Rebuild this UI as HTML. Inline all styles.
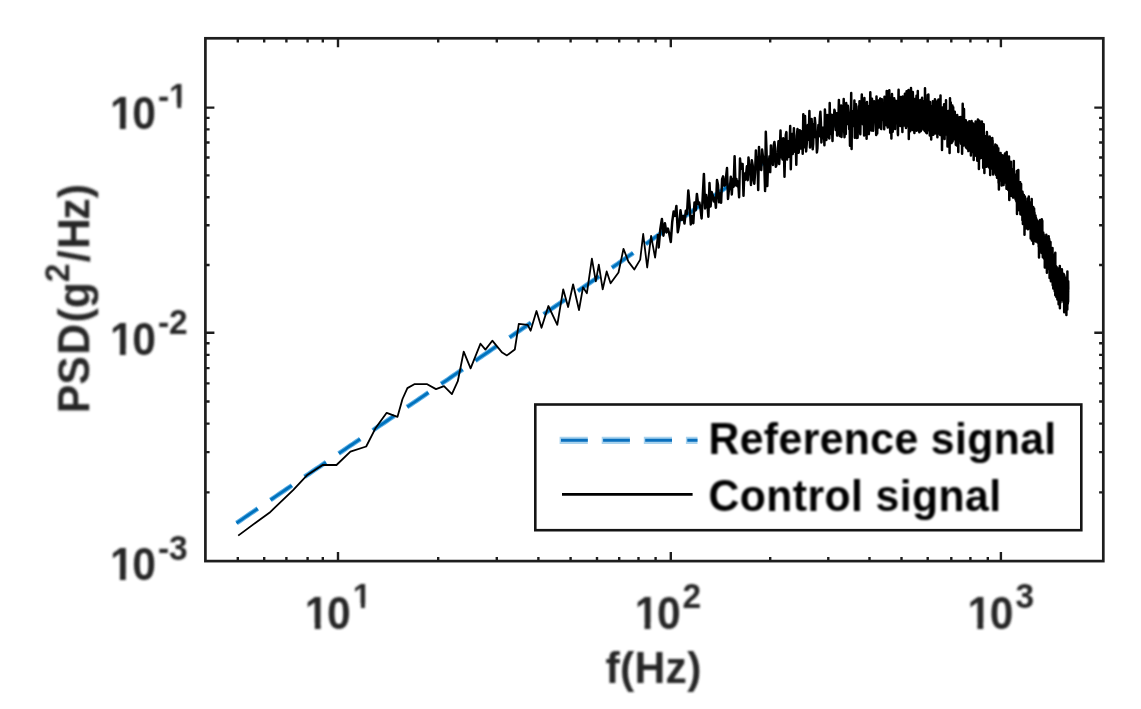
<!DOCTYPE html>
<html><head><meta charset="utf-8"><title>PSD</title>
<style>
html,body{margin:0;padding:0;background:#fff;}
svg{display:block}
text{font-family:"Liberation Sans",sans-serif;font-weight:bold;font-size:42.67px;}
.tl{fill:#262626}
.lab{fill:#262626}
.leg{fill:#000}
.sup{stroke:none}
</style></head><body>
<svg width="1141" height="709" viewBox="0 0 1141 709">
<defs><filter id="bl" x="-2%" y="-2%" width="104%" height="104%"><feGaussianBlur stdDeviation="0.8"/></filter>
<clipPath id="ft"><path clip-rule="evenodd" d="M0,0H1141V709H0ZM305.54,622.96h9.27v7.64h-9.27ZM320.67,622.96h8.73v7.64h-8.73ZM352.93,603.56h8.01v6.64h-8.01ZM364.93,603.56h7.58v6.64h-7.58ZM635.34,622.96h9.27v7.64h-9.27ZM650.47,622.96h8.73v7.64h-8.73ZM968.14,622.96h9.27v7.64h-9.27ZM983.27,622.96h8.73v7.64h-8.73ZM110.64,123.06h9.27v7.64h-9.27ZM125.77,123.06h8.73v7.64h-8.73ZM169.18,103.66h8.01v6.64h-8.01ZM181.18,103.66h7.58v6.64h-7.58ZM110.64,348.96h9.27v7.64h-9.27ZM125.77,348.96h8.73v7.64h-8.73ZM110.64,574.36h9.27v7.64h-9.27ZM125.77,574.36h8.73v7.64h-8.73Z"/></clipPath>
<clipPath id="cp"><rect x="205.4" y="38.3" width="897.9" height="522.8000000000001"/></clipPath></defs>
<rect width="1141" height="709" fill="#fff"/>
<g>
<g clip-path="url(#cp)">
<polyline points="236.5,523.1 239.3,521.2 242.1,519.3 244.8,517.4 247.6,515.5 250.4,513.6 253.2,511.7 256.0,509.8 258.7,508.0 261.5,506.1 264.3,504.2 267.1,502.3 269.9,500.4 272.7,498.5 275.4,496.6 278.2,494.7 281.0,492.8 283.8,490.9 286.6,489.0 289.3,487.2 292.1,485.3 294.9,483.4 297.7,481.5 300.5,479.6 303.2,477.7 306.0,475.8 308.8,473.9 311.6,472.0 314.4,470.1 317.1,468.2 319.9,466.4 322.7,464.5 325.5,462.6 328.3,460.7 331.1,458.8 333.8,456.9 336.6,455.0 339.4,453.1 342.2,451.2 345.0,449.3 347.7,447.4 350.5,445.5 353.3,443.7 356.1,441.8 358.9,439.9 361.6,438.0 364.4,436.1 367.2,434.2 370.0,432.3 372.8,430.4 375.5,428.5 378.3,426.6 381.1,424.7 383.9,422.9 386.7,421.0 389.5,419.1 392.2,417.2 395.0,415.3 397.8,413.4 400.6,411.5 403.4,409.6 406.1,407.7 408.9,405.8 411.7,403.9 414.5,402.1 417.3,400.2 420.0,398.3 422.8,396.4 425.6,394.5 428.4,392.6 431.2,390.7 433.9,388.8 436.7,386.9 439.5,385.0 442.3,383.1 445.1,381.3 447.9,379.4 450.6,377.5 453.4,375.6 456.2,373.7 459.0,371.8 461.8,369.9 464.5,368.0 467.3,366.1 470.1,364.2 472.9,362.3 475.7,360.5 478.4,358.6 481.2,356.7 484.0,354.8 486.8,352.9 489.6,351.0 492.3,349.1 495.1,347.2 497.9,345.3 500.7,343.4 503.5,341.5 506.3,339.6 509.0,337.8 511.8,335.9 514.6,334.0 517.4,332.1 520.2,330.2 522.9,328.3 525.7,326.4 528.5,324.5 531.3,322.6 534.1,320.7 536.8,318.8 539.6,317.0 542.4,315.1 545.2,313.2 548.0,311.3 550.7,309.4 553.5,307.5 556.3,305.6 559.1,303.7 561.9,301.8 564.7,299.9 567.4,298.0 570.2,296.2 573.0,294.3 575.8,292.4 578.6,290.5 581.3,288.6 584.1,286.7 586.9,284.8 589.7,282.9 592.5,281.0 595.2,279.1 598.0,277.2 600.8,275.4 603.6,273.5 606.4,271.6 609.1,269.6 611.9,267.7 614.7,265.8 617.5,263.9 620.3,261.9 623.1,260.0 625.8,258.1 628.6,256.1 631.4,254.2 634.2,252.2 637.0,250.2 639.7,248.3 642.5,246.3 645.3,244.3 648.1,242.4 650.9,240.4 653.6,238.4 656.4,236.4 659.2,234.5 662.0,232.5 664.8,230.5 667.5,228.5 670.3,226.6 673.1,224.6 675.9,222.6 678.7,220.6 681.4,218.7 684.2,216.7 687.0,214.7 689.8,212.8 692.6,210.8 695.4,208.9 698.1,206.9 700.9,205.0 703.7,203.0 706.5,201.1 709.3,199.1 712.0,197.2 714.8,195.3 717.6,193.4 720.4,191.5 723.2,189.6 725.9,187.7 728.7,185.8 731.5,183.9 734.3,182.0 737.1,180.2 739.8,178.3 742.6,176.5 745.4,174.6 748.2,172.8 751.0,171.0 753.8,169.2 756.5,167.4 759.3,165.6 762.1,163.8 764.9,162.0 767.7,160.3 770.4,158.6 773.2,156.8 776.0,155.1 778.8,153.4 781.6,151.7 784.3,150.1 787.1,148.4 789.9,146.8 792.7,145.1 795.5,143.6 798.2,142.1 801.0,140.6 803.8,139.1 806.6,137.7 809.4,136.2 812.2,134.8 814.9,133.4 817.7,132.0 820.5,130.8 823.3,129.5 826.1,128.3 828.8,127.1 831.6,126.0 834.4,124.9 837.2,123.9 840.0,123.0 842.7,122.2 845.5,121.4 848.3,120.7 851.1,120.0 853.9,119.3 856.6,118.7 859.4,118.1 862.2,117.5 865.0,116.9 867.8,116.2 870.6,115.6 873.3,115.1 876.1,114.7 878.9,114.5 881.7,114.5 884.5,114.5 887.2,114.5 890.0,114.5 892.8,114.5 895.6,114.5 898.4,114.5 901.1,114.5 903.9,114.7 906.7,115.0 909.5,115.5 912.3,116.0 915.0,116.5 917.8,117.1 920.6,117.6 923.4,118.1 926.2,118.7 929.0,119.2 931.7,119.8 934.5,120.5 937.3,121.2 940.1,122.0 942.9,123.0 945.6,124.0 948.4,125.3 951.2,126.6 954.0,128.0 956.8,129.4 959.5,130.8 962.3,132.2 965.1,133.8 967.9,135.3 970.7,137.0 973.4,138.9 976.2,140.9 979.0,143.2 981.8,145.9 984.6,148.9 987.4,152.2 990.1,155.5 992.9,158.7 995.7,161.7 998.5,164.5 1001.3,167.2 1004.0,169.9 1006.8,173.1 1009.6,176.9 1012.4,181.9 1015.2,187.8 1017.9,194.4 1020.7,202.7 1023.5,210.1 1026.3,214.3 1029.1,217.5 1031.8,221.3 1034.6,226.1 1037.4,231.6 1040.2,237.4 1043.0,243.9 1045.8,251.0 1048.5,258.5 1051.3,266.9 1054.1,274.9 1056.9,280.7 1059.7,285.3 1062.4,288.5 1065.2,291.2 1068.0,293.2" fill="none" stroke="#5fb0e6" stroke-width="4.8" stroke-dasharray="26.1 15.2" stroke-dashoffset="0.3" stroke-linejoin="round"/>
<polyline points="236.5,523.1 239.3,521.2 242.1,519.3 244.8,517.4 247.6,515.5 250.4,513.6 253.2,511.7 256.0,509.8 258.7,508.0 261.5,506.1 264.3,504.2 267.1,502.3 269.9,500.4 272.7,498.5 275.4,496.6 278.2,494.7 281.0,492.8 283.8,490.9 286.6,489.0 289.3,487.2 292.1,485.3 294.9,483.4 297.7,481.5 300.5,479.6 303.2,477.7 306.0,475.8 308.8,473.9 311.6,472.0 314.4,470.1 317.1,468.2 319.9,466.4 322.7,464.5 325.5,462.6 328.3,460.7 331.1,458.8 333.8,456.9 336.6,455.0 339.4,453.1 342.2,451.2 345.0,449.3 347.7,447.4 350.5,445.5 353.3,443.7 356.1,441.8 358.9,439.9 361.6,438.0 364.4,436.1 367.2,434.2 370.0,432.3 372.8,430.4 375.5,428.5 378.3,426.6 381.1,424.7 383.9,422.9 386.7,421.0 389.5,419.1 392.2,417.2 395.0,415.3 397.8,413.4 400.6,411.5 403.4,409.6 406.1,407.7 408.9,405.8 411.7,403.9 414.5,402.1 417.3,400.2 420.0,398.3 422.8,396.4 425.6,394.5 428.4,392.6 431.2,390.7 433.9,388.8 436.7,386.9 439.5,385.0 442.3,383.1 445.1,381.3 447.9,379.4 450.6,377.5 453.4,375.6 456.2,373.7 459.0,371.8 461.8,369.9 464.5,368.0 467.3,366.1 470.1,364.2 472.9,362.3 475.7,360.5 478.4,358.6 481.2,356.7 484.0,354.8 486.8,352.9 489.6,351.0 492.3,349.1 495.1,347.2 497.9,345.3 500.7,343.4 503.5,341.5 506.3,339.6 509.0,337.8 511.8,335.9 514.6,334.0 517.4,332.1 520.2,330.2 522.9,328.3 525.7,326.4 528.5,324.5 531.3,322.6 534.1,320.7 536.8,318.8 539.6,317.0 542.4,315.1 545.2,313.2 548.0,311.3 550.7,309.4 553.5,307.5 556.3,305.6 559.1,303.7 561.9,301.8 564.7,299.9 567.4,298.0 570.2,296.2 573.0,294.3 575.8,292.4 578.6,290.5 581.3,288.6 584.1,286.7 586.9,284.8 589.7,282.9 592.5,281.0 595.2,279.1 598.0,277.2 600.8,275.4 603.6,273.5 606.4,271.6 609.1,269.6 611.9,267.7 614.7,265.8 617.5,263.9 620.3,261.9 623.1,260.0 625.8,258.1 628.6,256.1 631.4,254.2 634.2,252.2 637.0,250.2 639.7,248.3 642.5,246.3 645.3,244.3 648.1,242.4 650.9,240.4 653.6,238.4 656.4,236.4 659.2,234.5 662.0,232.5 664.8,230.5 667.5,228.5 670.3,226.6 673.1,224.6 675.9,222.6 678.7,220.6 681.4,218.7 684.2,216.7 687.0,214.7 689.8,212.8 692.6,210.8 695.4,208.9 698.1,206.9 700.9,205.0 703.7,203.0 706.5,201.1 709.3,199.1 712.0,197.2 714.8,195.3 717.6,193.4 720.4,191.5 723.2,189.6 725.9,187.7 728.7,185.8 731.5,183.9 734.3,182.0 737.1,180.2 739.8,178.3 742.6,176.5 745.4,174.6 748.2,172.8 751.0,171.0 753.8,169.2 756.5,167.4 759.3,165.6 762.1,163.8 764.9,162.0 767.7,160.3 770.4,158.6 773.2,156.8 776.0,155.1 778.8,153.4 781.6,151.7 784.3,150.1 787.1,148.4 789.9,146.8 792.7,145.1 795.5,143.6 798.2,142.1 801.0,140.6 803.8,139.1 806.6,137.7 809.4,136.2 812.2,134.8 814.9,133.4 817.7,132.0 820.5,130.8 823.3,129.5 826.1,128.3 828.8,127.1 831.6,126.0 834.4,124.9 837.2,123.9 840.0,123.0 842.7,122.2 845.5,121.4 848.3,120.7 851.1,120.0 853.9,119.3 856.6,118.7 859.4,118.1 862.2,117.5 865.0,116.9 867.8,116.2 870.6,115.6 873.3,115.1 876.1,114.7 878.9,114.5 881.7,114.5 884.5,114.5 887.2,114.5 890.0,114.5 892.8,114.5 895.6,114.5 898.4,114.5 901.1,114.5 903.9,114.7 906.7,115.0 909.5,115.5 912.3,116.0 915.0,116.5 917.8,117.1 920.6,117.6 923.4,118.1 926.2,118.7 929.0,119.2 931.7,119.8 934.5,120.5 937.3,121.2 940.1,122.0 942.9,123.0 945.6,124.0 948.4,125.3 951.2,126.6 954.0,128.0 956.8,129.4 959.5,130.8 962.3,132.2 965.1,133.8 967.9,135.3 970.7,137.0 973.4,138.9 976.2,140.9 979.0,143.2 981.8,145.9 984.6,148.9 987.4,152.2 990.1,155.5 992.9,158.7 995.7,161.7 998.5,164.5 1001.3,167.2 1004.0,169.9 1006.8,173.1 1009.6,176.9 1012.4,181.9 1015.2,187.8 1017.9,194.4 1020.7,202.7 1023.5,210.1 1026.3,214.3 1029.1,217.5 1031.8,221.3 1034.6,226.1 1037.4,231.6 1040.2,237.4 1043.0,243.9 1045.8,251.0 1048.5,258.5 1051.3,266.9 1054.1,274.9 1056.9,280.7 1059.7,285.3 1062.4,288.5 1065.2,291.2 1068.0,293.2" fill="none" stroke="#0072BD" stroke-width="2.8" stroke-dasharray="25.5 15.8" stroke-linejoin="round"/>
<polyline points="238.2,535.6 255.6,522.7 269.4,512.8 293.1,490.1 306.9,475.3 322.7,465.0 336.5,465.0 350.4,451.6 366.2,446.5 375.8,427.7 386.7,412.8 397.5,416.8 402.5,399.0 407.4,388.1 414.3,384.2 427.2,384.2 436.0,389.1 444.0,386.2 451.9,394.1 457.8,381.2 463.7,351.6 470.6,368.4 480.5,343.7 485.4,349.6 492.3,340.7 502.2,352.6 506.9,355.4 514.8,349.5 518.8,323.8 527.7,324.8 530.6,330.7 536.5,311.0 541.5,327.8 548.4,306.0 557.3,324.8 563.2,289.3 568.1,307.0 573.1,284.3 579.0,310.0 583.0,287.3 586.9,293.2 591.9,258.6 595.8,281.4 598.8,264.6 602.7,289.3 606.7,271.5 610.6,283.3 618.5,272.5 623.5,248.8 628.4,261.6 634.3,269.5 640.2,259.6 643.2,234.0 647.2,267.5 651.1,235.9 655.1,257.7 658.0,234.0" fill="none" stroke="#000" stroke-width="1.8" stroke-linejoin="round"/>
<polyline points="658.0,234.0 658.7,247.4 660.3,229.1 661.9,218.9 663.4,235.7 664.9,223.3 666.4,232.4 667.9,228.6 669.3,234.0 670.8,241.9 672.2,222.0 673.6,211.6 675.0,215.9 676.4,206.0 677.8,232.2 679.2,224.7 680.5,210.3 681.8,219.8 683.2,216.1 684.5,223.6 685.8,210.8 687.0,213.8 688.3,190.6 689.6,205.0 690.8,224.4 692.1,216.2 693.3,223.3 694.5,202.6 695.7,210.2 696.9,193.9 698.1,204.1 699.3,202.6 700.5,208.7 701.6,218.4 702.8,195.2 703.9,173.9 705.1,208.5 706.2,195.0 707.3,202.5 708.4,216.8 709.5,183.0 710.6,206.5 711.7,192.1 712.8,195.6 713.8,201.4 714.9,197.7 715.9,207.8 717.0,180.1 718.0,185.0 719.0,202.3 720.1,193.6 721.1,202.8 722.1,179.2 723.1,176.4 724.1,185.7 725.1,185.1 726.0,177.7 727.0,168.1 728.0,199.0 728.9,190.0 729.9,188.5 730.8,176.8 731.8,194.5 732.7,178.9 733.6,186.8 734.6,156.3 735.5,185.2 736.4,179.0 737.3,186.2 738.2,181.4 739.1,197.2 740.0,158.5 740.8,168.7 741.7,163.9 742.6,163.9 743.5,195.8 744.3,173.4 745.2,179.7 746.0,175.3 746.9,166.3 747.7,180.3 748.5,157.5 749.4,167.1 750.2,171.5 751.0,184.9 751.8,160.3 752.7,165.2 753.5,179.6 754.3,183.7 755.1,172.4 755.9,150.4 756.6,164.2 757.4,157.2 758.2,189.9 759.0,146.9 759.8,169.0 760.5,169.3 761.3,169.9 762.1,149.6 762.8,155.3 763.6,160.4 764.3,164.6 765.1,190.9 765.8,131.8 766.5,150.0 767.3,185.9 768.0,163.4 768.7,164.4 769.5,156.2 770.2,172.1 770.9,145.4 771.6,159.2 772.3,154.5 773.0,164.9 773.7,145.3 774.4,141.9 775.1,148.0 775.8,166.8 776.5,164.8 777.2,157.5 777.8,152.4 778.5,141.2 779.2,163.9 779.9,147.9 780.5,130.5 781.2,157.2 781.9,153.4 782.5,159.4 783.2,138.3 783.8,145.9 784.5,176.8 785.1,151.3 785.8,135.0 786.4,132.1 787.1,159.4 787.7,146.1 788.3,141.3 789.0,156.8 789.6,146.2 790.2,126.1 790.8,169.2 791.4,143.8 792.1,133.9 792.7,154.0 793.3,148.3 793.9,128.2 794.5,143.6 795.1,151.9 795.7,140.6 796.3,164.8 796.9,135.5 797.5,129.0 798.1,136.9 798.7,152.7 799.3,143.8 799.8,130.2 800.4,148.4 801.0,131.2 801.6,137.6 802.2,139.5 802.7,153.8 803.3,114.3 803.9,147.2 804.4,129.9 805.0,115.9 805.6,133.4 806.1,151.5 806.7,144.5 807.2,136.7 807.8,125.0 808.3,139.7 808.9,131.0 809.4,111.1 810.0,147.6 810.5,140.2 811.1,138.6 811.6,118.9 812.1,129.6 812.7,149.3 813.2,144.0 813.7,124.1 814.3,131.9 814.8,117.9 815.3,123.3 815.8,137.5 816.3,134.3 816.9,152.4 817.4,148.3 817.9,134.8 818.4,125.0 818.9,136.4 819.4,126.1 819.9,116.7 820.4,111.7 820.9,122.4 821.4,142.5 821.9,133.0 822.4,127.7 822.9,138.2 823.4,133.8 823.9,127.5 824.4,145.2 824.9,109.6 825.4,119.8 825.9,131.1 826.4,140.0 826.9,130.9 827.3,115.1 827.8,122.2 828.3,119.6 828.8,136.4 829.3,138.5 829.7,103.1 830.2,134.1 830.7,122.6 831.1,129.0 831.6,114.8 832.1,130.4 832.5,140.9 833.0,124.6 833.5,115.0 833.9,120.6 834.4,109.8 834.8,111.2 835.3,123.2 835.7,130.0 836.2,125.2 836.7,113.2 837.1,135.6 837.6,123.7 838.0,116.7 838.4,119.9 838.9,99.9 839.3,131.4 839.8,136.0 840.2,119.5 840.7,130.7 841.1,105.5 841.5,136.9 842.0,125.4 842.4,115.4 842.8,117.2 843.3,115.7 843.7,99.1 844.1,128.9 844.5,137.2 845.0,125.3 845.4,126.0 845.8,134.0 846.2,103.1 846.7,119.5 847.1,113.5 847.5,124.1 847.9,105.8 848.3,110.3 848.7,115.3 849.2,129.2 849.6,120.2 850.0,145.8 850.4,114.8 850.8,127.2 851.2,93.0 851.6,148.9 852.0,111.1 852.4,122.8 852.8,122.1 853.2,116.7 853.6,112.9 854.0,126.0 854.4,100.4 854.8,137.7 855.2,114.0 855.6,110.2 856.0,104.2 856.4,123.3 856.8,138.0 857.2,117.7 857.6,137.7 858.0,120.1 858.4,116.0 858.8,106.3 859.1,125.7 859.5,101.2 859.9,126.0 860.3,134.2 860.7,112.1 861.1,119.8 861.4,106.8 861.8,94.5 862.2,119.3 862.6,103.2 862.9,124.2 863.3,114.4 863.7,110.0 864.1,135.4 864.4,97.9 864.8,119.7 865.2,131.0 865.5,107.4 865.9,125.4 866.3,113.1 866.6,138.8 867.0,101.9 867.4,112.5 867.7,118.9 868.1,120.5 868.5,106.3 868.8,134.1 869.2,124.2 869.5,107.3 869.9,116.9 870.3,92.2 870.6,111.0 871.0,121.7 871.3,130.4 871.7,116.3 872.0,98.7 872.4,114.0 872.7,108.4 873.1,130.7 873.4,123.4 873.8,114.4 874.1,101.2 874.5,110.4 874.8,105.8 875.2,107.7 875.5,118.0 875.9,121.7 876.2,134.9 876.5,96.5 876.9,110.5 877.2,133.5 877.6,117.5 877.9,119.0 878.2,112.2 878.6,100.4 878.9,105.1 879.2,127.4 879.6,121.4 879.9,116.2 880.2,98.5 880.6,109.4 880.9,108.1 881.2,129.1 881.6,112.4 881.9,99.3 882.2,119.8 882.6,102.9 882.9,115.1 883.2,112.2 883.5,104.4 883.9,114.8 884.2,129.3 884.5,96.8 884.8,119.5 885.1,103.0 885.5,109.3 885.8,120.3 886.1,118.5 886.4,125.3 886.7,91.0 887.1,115.8 887.4,119.6 887.7,127.5 888.0,107.2 888.3,91.0 888.6,111.6 889.0,107.3 889.3,90.3 889.6,124.5 889.9,118.1 890.2,132.6 890.5,108.6 890.8,119.9 891.1,113.3 891.4,138.4 891.7,102.8 892.0,94.1 892.4,113.7 892.7,131.7 893.0,111.8 893.3,122.8 893.6,105.8 893.9,118.4 894.2,98.2 894.5,112.1 894.8,106.6 895.1,129.1 895.4,100.6 895.7,123.3 896.0,115.2 896.3,110.0 896.6,121.3 896.9,107.9 897.2,114.9 897.5,101.1 897.8,132.9 898.0,135.2 898.3,103.7 898.6,89.7 898.9,123.6 899.2,111.9 899.5,114.6 899.8,102.9 900.1,123.7 900.4,126.1 900.7,97.1 901.0,108.5 901.2,116.3 901.5,112.3 901.8,116.6 902.1,120.5 902.4,132.0 902.7,96.4 903.0,107.7 903.2,104.8 903.5,99.6 903.8,112.2 904.1,115.7 904.4,125.5 904.6,125.0 904.9,93.7 905.2,105.6 905.5,124.3 905.8,111.1 906.0,128.0 906.3,115.5 906.6,91.3 906.9,126.1 907.2,121.9 907.4,110.1 907.7,107.6 908.0,118.9 908.3,114.6 908.5,90.0 908.8,139.0 909.1,111.8 909.3,108.2 909.6,120.0 909.9,114.6 910.2,131.3 910.4,121.8 910.7,113.5 911.0,88.0 911.2,105.2 911.5,117.1 911.8,109.6 912.0,121.8 912.3,110.1 912.6,130.1 912.8,92.0 913.1,99.7 913.4,113.4 913.6,106.1 913.9,118.2 914.1,125.0 914.4,133.0 914.7,113.4 914.9,99.0 915.2,121.6 915.5,118.7 915.7,109.6 916.0,128.3 916.2,123.1 916.5,95.8 916.7,130.7 917.0,108.2 917.3,119.4 917.5,113.8 917.8,91.1 918.0,122.6 918.3,112.0 918.5,120.5 918.8,110.7 919.1,128.1 919.3,132.3 919.6,110.9 919.8,121.9 920.1,117.4 920.3,100.1 920.6,114.3 920.8,131.2 921.1,127.9 921.3,120.5 921.6,106.3 921.8,115.9 922.1,97.8 922.3,112.7 922.6,108.8 922.8,120.3 923.1,101.0 923.3,123.1 923.5,129.6 923.8,122.9 924.0,119.5 924.3,114.1 924.5,110.0 924.8,131.1 925.0,88.2 925.3,113.8 925.5,100.1 925.7,111.2 926.0,132.6 926.2,122.1 926.5,128.4 926.7,123.5 926.9,133.2 927.2,110.6 927.4,117.6 927.7,95.0 927.9,121.5 928.1,127.1 928.4,94.6 928.6,112.6 928.9,113.7 929.1,130.2 929.3,119.9 929.6,107.6 929.8,135.4 930.0,101.9 930.3,126.7 930.5,122.2 930.7,117.0 931.0,120.7 931.2,139.5 931.4,106.7 931.7,130.0 931.9,109.6 932.1,116.3 932.4,129.7 932.6,116.1 932.8,101.3 933.1,112.8 933.3,134.8 933.5,121.4 933.7,131.0 934.0,128.8 934.2,112.0 934.4,122.8 934.7,118.6 934.9,99.2 935.1,133.4 935.3,123.4 935.6,102.1 935.8,111.0 936.0,128.5 936.2,116.0 936.5,121.4 936.7,128.7 936.9,109.3 937.1,117.3 937.4,137.2 937.6,100.5 937.8,119.0 938.0,120.8 938.3,131.4 938.5,99.6 938.7,111.3 938.9,133.4 939.1,125.4 939.4,110.0 939.6,105.3 939.8,129.3 940.0,119.6 940.2,135.1 940.5,95.5 940.7,133.9 940.9,122.9 941.1,116.8 941.3,110.6 941.5,132.0 941.8,117.9 942.0,150.0 942.2,132.0 942.4,107.6 942.6,111.5 942.8,123.5 943.1,111.9 943.3,130.6 943.5,134.0 943.7,123.0 943.9,121.9 944.1,104.3 944.3,121.0 944.6,138.9 944.8,108.3 945.0,123.2 945.2,113.7 945.4,131.1 945.6,122.5 945.8,134.6 946.0,100.2 946.2,132.1 946.5,127.3 946.7,117.5 946.9,111.4 947.1,128.4 947.3,114.5 947.5,146.6 947.7,121.1 947.9,130.6 948.1,120.3 948.3,110.9 948.5,126.7 948.7,118.8 948.9,134.7 949.2,138.2 949.4,129.8 949.6,153.0 949.8,122.9 950.0,98.3 950.2,117.5 950.4,127.6 950.6,125.0 950.8,102.4 951.0,126.2 951.2,117.4 951.4,135.4 951.6,143.0 951.8,120.1 952.0,130.9 952.2,129.4 952.4,105.4 952.6,141.5 952.8,126.2 953.0,116.0 953.2,107.2 953.4,137.7 953.6,124.6 953.8,133.7 954.0,129.3 954.2,139.3 954.4,137.3 954.6,131.9 954.8,111.8 955.0,119.7 955.2,126.9 955.4,136.6 955.6,119.2 955.8,144.7 956.0,116.6 956.2,123.5 956.4,132.0 956.6,124.7 956.8,145.5 957.0,133.8 957.2,115.0 957.3,133.3 957.5,123.9 957.7,117.9 957.9,134.8 958.1,128.5 958.3,151.9 958.5,132.2 958.7,122.0 958.9,125.3 959.1,141.3 959.3,117.3 959.5,134.1 959.7,120.1 959.8,134.8 960.0,132.8 960.2,137.2 960.4,122.3 960.6,126.6 960.8,116.9 961.0,143.7 961.2,117.6 961.4,122.1 961.6,140.8 961.7,128.1 961.9,133.4 962.1,153.7 962.3,131.9 962.5,131.3 962.7,103.8 962.9,144.7 963.1,126.7 963.2,136.6 963.4,124.2 963.6,134.7 963.8,145.4 964.0,109.0 964.2,131.4 964.4,141.6 964.5,125.7 964.7,134.5 964.9,120.9 965.1,139.5 965.3,130.6 965.5,144.5 965.6,143.6 965.8,120.2 966.0,147.6 966.2,125.5 966.4,132.5 966.6,134.4 966.7,122.1 966.9,135.9 967.1,148.6 967.3,140.2 967.5,133.7 967.7,125.7 967.8,123.3 968.0,129.9 968.2,145.1 968.4,151.1 968.6,124.7 968.7,137.1 968.9,132.0 969.1,148.1 969.3,121.2 969.4,144.6 969.6,139.8 969.8,127.1 970.0,135.4 970.2,141.0 970.3,139.9 970.5,122.5 970.7,127.5 970.9,155.6 971.0,132.0 971.2,147.8 971.4,140.0 971.6,121.0 971.7,142.2 971.9,129.6 972.1,125.4 972.3,142.1 972.4,139.9 972.6,132.6 972.8,152.0 973.0,136.5 973.1,123.6 973.3,141.9 973.5,132.2 973.7,159.9 973.8,143.1 974.0,137.0 974.2,154.5 974.4,131.9 974.5,127.7 974.7,134.2 974.9,139.8 975.0,145.6 975.2,138.1 975.4,147.5 975.6,121.5 975.7,150.6 975.9,132.2 976.1,143.8 976.2,155.9 976.4,138.2 976.6,129.4 976.8,132.1 976.9,147.2 977.1,143.4 977.3,160.8 977.4,148.0 977.6,145.4 977.8,137.8 977.9,119.5 978.1,135.9 978.3,139.3 978.4,131.9 978.6,129.8 978.8,146.9 978.9,168.9 979.1,146.3 979.3,140.1 979.4,120.8 979.6,135.5 979.8,144.0 979.9,156.9 980.1,151.2 980.3,150.5 980.4,158.2 980.6,148.3 980.8,139.7 980.9,136.9 981.1,133.2 981.3,157.3 981.4,154.3 981.6,145.1 981.8,141.3 981.9,121.6 982.1,139.2 982.2,157.7 982.4,141.0 982.6,129.6 982.7,155.9 982.9,149.5 983.1,136.4 983.2,167.7 983.4,155.8 983.5,143.9 983.7,124.3 983.9,141.2 984.0,147.9 984.2,154.8 984.4,172.9 984.5,139.5 984.7,137.8 984.8,152.4 985.0,145.6 985.2,158.9 985.3,152.8 985.5,156.7 985.6,136.3 985.8,143.5 986.0,145.2 986.1,147.5 986.3,144.0 986.4,166.8 986.6,153.0 986.7,155.2 986.9,132.1 987.1,151.6 987.2,135.3 987.4,166.3 987.5,150.1 987.7,161.3 987.9,145.9 988.0,156.5 988.2,146.5 988.3,148.6 988.5,166.6 988.6,155.0 988.8,139.5 988.9,161.4 989.1,167.4 989.3,155.2 989.4,150.8 989.6,146.7 989.7,136.4 989.9,145.9 990.0,158.1 990.2,175.0 990.3,138.2 990.5,153.2 990.7,164.5 990.8,149.0 991.0,165.3 991.1,166.7 991.3,160.1 991.4,154.5 991.6,144.5 991.7,164.5 991.9,168.6 992.0,158.9 992.2,155.5 992.3,137.9 992.5,147.5 992.6,140.6 992.8,160.4 992.9,153.6 993.1,174.4 993.2,151.5 993.4,165.9 993.5,152.6 993.7,160.6 993.8,146.8 994.0,171.9 994.1,155.0 994.3,166.5 994.4,147.7 994.6,151.2 994.7,162.8 994.9,157.2 995.0,172.6 995.2,167.1 995.3,144.6 995.5,154.5 995.6,157.8 995.8,168.4 995.9,174.8 996.1,163.6 996.2,161.6 996.4,160.0 996.5,156.6 996.7,145.6 996.8,166.8 997.0,177.8 997.1,146.2 997.3,176.5 997.4,167.5 997.6,164.0 997.7,154.6 997.9,161.7 998.0,159.3 998.1,156.7 998.3,148.3 998.4,169.3 998.6,183.0 998.7,167.0 998.9,189.5 999.0,157.7 999.2,173.2 999.3,154.3 999.5,167.7 999.6,163.0 999.7,180.4 999.9,154.4 1000.0,170.9 1000.2,166.8 1000.3,161.0 1000.5,159.5 1000.6,153.0 1000.8,168.6 1000.9,172.5 1001.0,162.4 1001.2,179.2 1001.3,160.6 1001.5,155.0 1001.6,185.6 1001.8,162.0 1001.9,170.4 1002.0,165.4 1002.2,172.3 1002.3,175.4 1002.5,161.5 1002.6,171.1 1002.8,164.6 1002.9,155.4 1003.0,182.1 1003.2,165.6 1003.3,171.9 1003.5,176.2 1003.6,184.9 1003.7,158.7 1003.9,160.3 1004.0,178.4 1004.2,179.5 1004.3,168.2 1004.4,164.4 1004.6,155.6 1004.7,173.1 1004.9,171.1 1005.0,153.4 1005.1,179.8 1005.3,182.6 1005.4,167.1 1005.6,166.0 1005.7,172.6 1005.8,182.1 1006.0,167.2 1006.1,176.1 1006.2,163.8 1006.4,156.5 1006.5,188.7 1006.7,152.1 1006.8,174.4 1006.9,163.5 1007.1,176.9 1007.2,172.4 1007.3,168.9 1007.5,166.9 1007.6,179.7 1007.8,173.3 1007.9,161.6 1008.0,185.3 1008.2,175.8 1008.3,190.1 1008.4,174.2 1008.6,163.3 1008.7,165.4 1008.8,181.5 1009.0,156.5 1009.1,176.2 1009.3,200.1 1009.4,174.5 1009.5,184.5 1009.7,170.3 1009.8,177.4 1009.9,182.7 1010.1,165.3 1010.2,167.7 1010.3,174.0 1010.5,190.9 1010.6,178.0 1010.7,169.3 1010.9,161.8 1011.0,175.2 1011.1,195.8 1011.3,188.3 1011.4,178.2 1011.5,169.1 1011.7,194.3 1011.8,181.2 1011.9,185.9 1012.1,174.2 1012.2,170.9 1012.3,191.3 1012.5,170.4 1012.6,183.9 1012.7,191.1 1012.9,177.9 1013.0,197.5 1013.1,181.1 1013.3,189.1 1013.4,183.7 1013.5,173.4 1013.6,176.6 1013.8,161.0 1013.9,184.8 1014.0,176.0 1014.2,197.4 1014.3,182.1 1014.4,191.1 1014.6,174.6 1014.7,192.6 1014.8,179.1 1015.0,197.8 1015.1,184.7 1015.2,187.8 1015.3,187.3 1015.5,177.2 1015.6,199.5 1015.7,182.2 1015.9,187.8 1016.0,196.9 1016.1,185.9 1016.2,191.3 1016.4,201.6 1016.5,197.9 1016.6,185.2 1016.8,171.0 1016.9,190.6 1017.0,213.9 1017.1,187.0 1017.3,199.5 1017.4,180.1 1017.5,193.4 1017.7,204.1 1017.8,197.5 1017.9,194.6 1018.0,190.8 1018.2,188.5 1018.3,170.0 1018.4,198.3 1018.5,210.1 1018.7,193.6 1018.8,201.0 1018.9,185.9 1019.1,191.3 1019.2,182.1 1019.3,194.6 1019.4,188.7 1019.6,210.6 1019.7,204.8 1019.8,200.0 1019.9,201.8 1020.1,206.2 1020.2,182.2 1020.3,199.6 1020.4,214.3 1020.6,194.4 1020.7,196.5 1020.8,204.7 1020.9,201.2 1021.1,183.9 1021.2,210.6 1021.3,214.6 1021.4,205.4 1021.6,213.6 1021.7,211.8 1021.8,203.8 1021.9,194.3 1022.1,197.0 1022.2,212.2 1022.3,206.9 1022.4,220.3 1022.5,191.7 1022.7,205.8 1022.8,201.1 1022.9,224.1 1023.0,196.8 1023.2,208.6 1023.3,217.6 1023.4,207.1 1023.5,201.4 1023.7,201.5 1023.8,206.6 1023.9,195.0 1024.0,213.2 1024.1,216.4 1024.3,220.0 1024.4,206.6 1024.5,234.8 1024.6,216.5 1024.7,213.4 1024.9,196.5 1025.0,202.7 1025.1,209.2 1025.2,222.3 1025.4,219.4 1025.5,201.5 1025.6,207.2 1025.7,215.3 1025.8,228.5 1026.0,210.4 1026.1,206.4 1026.2,202.9 1026.3,217.5 1026.4,214.6 1026.6,223.1 1026.7,219.8 1026.8,208.2 1026.9,214.7 1027.0,203.9 1027.2,211.1 1027.3,219.4 1027.4,209.3 1027.5,218.1 1027.6,198.5 1027.8,211.3 1027.9,229.2 1028.0,217.1 1028.1,213.4 1028.2,228.5 1028.3,209.0 1028.5,221.7 1028.6,197.6 1028.7,215.2 1028.8,196.5 1028.9,217.1 1029.1,223.0 1029.2,209.2 1029.3,227.6 1029.4,220.8 1029.5,212.3 1029.6,214.9 1029.8,223.5 1029.9,203.4 1030.0,228.4 1030.1,223.1 1030.2,208.3 1030.3,219.7 1030.5,216.6 1030.6,209.8 1030.7,238.4 1030.8,218.3 1030.9,236.9 1031.0,202.3 1031.2,223.5 1031.3,221.2 1031.4,210.8 1031.5,215.8 1031.6,222.0 1031.7,198.9 1031.9,240.5 1032.0,215.0 1032.1,226.5 1032.2,216.1 1032.3,220.8 1032.4,235.8 1032.5,227.2 1032.7,211.8 1032.8,225.7 1032.9,229.3 1033.0,219.1 1033.1,216.4 1033.2,207.1 1033.3,243.9 1033.5,224.4 1033.6,219.1 1033.7,224.3 1033.8,221.5 1033.9,232.9 1034.0,233.3 1034.1,208.6 1034.3,227.8 1034.4,234.8 1034.5,212.6 1034.6,219.0 1034.7,224.1 1034.8,231.0 1034.9,237.0 1035.1,222.6 1035.2,234.7 1035.3,221.8 1035.4,228.0 1035.5,215.4 1035.6,226.9 1035.7,232.9 1035.8,241.4 1036.0,218.1 1036.1,220.4 1036.2,231.4 1036.3,227.7 1036.4,232.5 1036.5,223.4 1036.6,219.6 1036.7,240.4 1036.8,235.9 1037.0,228.5 1037.1,233.0 1037.2,239.4 1037.3,220.8 1037.4,222.8 1037.5,236.2 1037.6,242.6 1037.7,233.1 1037.8,230.8 1038.0,224.5 1038.1,221.4 1038.2,240.0 1038.3,225.4 1038.4,240.3 1038.5,231.4 1038.6,234.4 1038.7,246.8 1038.8,221.4 1039.0,257.5 1039.1,238.3 1039.2,224.7 1039.3,228.2 1039.4,231.1 1039.5,238.3 1039.6,239.5 1039.7,238.7 1039.8,251.2 1039.9,231.4 1040.0,220.0 1040.2,235.5 1040.3,242.5 1040.4,221.7 1040.5,237.1 1040.6,229.5 1040.7,249.1 1040.8,234.2 1040.9,230.5 1041.0,250.1 1041.1,241.6 1041.2,236.7 1041.4,245.9 1041.5,225.3 1041.6,252.9 1041.7,247.2 1041.8,219.3 1041.9,244.2 1042.0,238.5 1042.1,233.1 1042.2,249.7 1042.3,220.7 1042.4,243.7 1042.5,240.8 1042.6,237.6 1042.8,257.2 1042.9,244.8 1043.0,238.4 1043.1,242.5 1043.2,232.4 1043.3,252.4 1043.4,253.6 1043.5,236.8 1043.6,246.4 1043.7,234.4 1043.8,249.3 1043.9,242.4 1044.0,258.6 1044.1,251.0 1044.2,257.5 1044.3,240.2 1044.5,249.3 1044.6,246.4 1044.7,237.2 1044.8,267.6 1044.9,254.0 1045.0,243.6 1045.1,244.7 1045.2,249.2 1045.3,238.0 1045.4,240.8 1045.5,257.1 1045.6,252.7 1045.7,246.5 1045.8,261.2 1045.9,239.9 1046.0,256.9 1046.1,247.7 1046.2,264.4 1046.3,234.8 1046.4,243.7 1046.6,253.7 1046.7,251.0 1046.8,248.5 1046.9,272.7 1047.0,255.8 1047.1,243.7 1047.2,259.9 1047.3,263.1 1047.4,268.6 1047.5,248.3 1047.6,244.3 1047.7,256.4 1047.8,254.8 1047.9,266.7 1048.0,251.7 1048.1,260.5 1048.2,257.8 1048.3,244.4 1048.4,256.0 1048.5,256.8 1048.6,249.3 1048.7,236.2 1048.8,269.1 1048.9,260.6 1049.0,267.7 1049.1,264.8 1049.2,239.0 1049.3,260.6 1049.4,259.3 1049.5,254.7 1049.6,278.1 1049.7,254.1 1049.9,270.1 1050.0,264.1 1050.1,260.2 1050.2,251.9 1050.3,277.2 1050.4,268.7 1050.5,242.0 1050.6,255.2 1050.7,261.8 1050.8,265.3 1050.9,281.3 1051.0,255.6 1051.1,266.4 1051.2,278.7 1051.3,257.9 1051.4,262.9 1051.5,272.4 1051.6,275.9 1051.7,260.9 1051.8,252.6 1051.9,264.6 1052.0,268.7 1052.1,279.8 1052.2,267.7 1052.3,271.6 1052.4,260.1 1052.5,247.9 1052.6,277.4 1052.7,285.3 1052.8,276.4 1052.9,262.2 1053.0,259.2 1053.1,271.6 1053.2,268.2 1053.3,288.5 1053.4,254.6 1053.5,271.1 1053.6,277.2 1053.7,273.9 1053.8,285.7 1053.9,264.9 1054.0,275.1 1054.1,266.9 1054.2,279.1 1054.3,272.4 1054.4,288.6 1054.5,265.2 1054.6,267.8 1054.7,291.3 1054.8,283.6 1054.9,278.3 1055.0,273.0 1055.1,264.1 1055.2,269.8 1055.3,252.8 1055.3,295.2 1055.4,284.8 1055.5,273.2 1055.6,280.3 1055.7,283.1 1055.8,271.3 1055.9,281.9 1056.0,266.2 1056.1,276.3 1056.2,288.1 1056.3,286.4 1056.4,297.1 1056.5,277.4 1056.6,266.9 1056.7,273.2 1056.8,282.6 1056.9,268.2 1057.0,272.1 1057.1,284.4 1057.2,276.6 1057.3,281.2 1057.4,299.5 1057.5,272.3 1057.6,282.9 1057.7,289.6 1057.8,279.4 1057.9,269.6 1058.0,293.7 1058.1,282.9 1058.2,276.6 1058.3,279.4 1058.4,289.1 1058.5,293.5 1058.5,271.8 1058.6,304.2 1058.7,285.9 1058.8,277.8 1058.9,268.2 1059.0,291.6 1059.1,281.1 1059.2,285.9 1059.3,278.6 1059.4,294.0 1059.5,274.9 1059.6,292.2 1059.7,280.9 1059.8,265.9 1059.9,308.2 1060.0,282.1 1060.1,294.1 1060.2,279.8 1060.3,287.1 1060.4,281.5 1060.5,279.6 1060.5,302.4 1060.6,289.3 1060.7,291.5 1060.8,276.2 1060.9,290.7 1061.0,285.5 1061.1,274.8 1061.2,280.8 1061.3,289.7 1061.4,300.0 1061.5,282.0 1061.6,287.3 1061.7,294.6 1061.8,283.9 1061.9,269.2 1062.0,297.6 1062.1,271.9 1062.1,295.1 1062.2,278.3 1062.3,285.4 1062.4,289.9 1062.5,297.1 1062.6,296.9 1062.7,291.3 1062.8,298.2 1062.9,287.1 1063.0,274.4 1063.1,280.0 1063.2,294.2 1063.3,279.6 1063.4,278.6 1063.5,292.6 1063.5,301.9 1063.6,285.6 1063.7,274.0 1063.8,294.1 1063.9,286.2 1064.0,280.2 1064.1,290.2 1064.2,312.2 1064.3,275.2 1064.4,303.7 1064.5,294.6 1064.6,288.3 1064.7,284.3 1064.7,292.8 1064.8,288.2 1064.9,305.3 1065.0,282.5 1065.1,294.0 1065.2,278.4 1065.3,298.8 1065.4,300.2 1065.5,277.6 1065.6,282.0 1065.7,291.3 1065.7,298.4 1065.8,286.9 1065.9,282.1 1066.0,292.2 1066.1,280.8 1066.2,289.8 1066.3,298.5 1066.4,314.9 1066.5,290.2 1066.6,294.2 1066.7,301.0 1066.7,295.9 1066.8,286.4 1066.9,279.5 1067.0,292.0 1067.1,290.7 1067.2,284.5 1067.3,309.4 1067.4,271.4 1067.5,298.3 1067.6,284.1 1067.7,301.0 1067.7,290.8 1067.8,303.7 1067.9,282.0 1068.0,293.7 1068.1,301.8 1068.2,281.3 1068.3,289.5" fill="none" stroke="#000" stroke-width="2.5" stroke-linejoin="round"/>
</g>
<path d="M237.8,561.1v-4.2M237.8,38.3v4.2M264.2,561.1v-4.2M264.2,38.3v4.2M286.4,561.1v-4.2M286.4,38.3v4.2M307.6,561.1v-4.2M307.6,38.3v4.2M322.8,561.1v-4.2M322.8,38.3v4.2M338.0,561.1v-9.0M338.0,38.3v9.0M438.2,561.1v-4.2M438.2,38.3v4.2M496.8,561.1v-4.2M496.8,38.3v4.2M538.4,561.1v-4.2M538.4,38.3v4.2M570.6,561.1v-4.2M570.6,38.3v4.2M597.0,561.1v-4.2M597.0,38.3v4.2M619.2,561.1v-4.2M619.2,38.3v4.2M638.5,561.1v-4.2M638.5,38.3v4.2M655.6,561.1v-4.2M655.6,38.3v4.2M670.8,561.1v-9.0M670.8,38.3v9.0M770.2,561.1v-4.2M770.2,38.3v4.2M828.3,561.1v-4.2M828.3,38.3v4.2M869.5,561.1v-4.2M869.5,38.3v4.2M901.5,561.1v-4.2M901.5,38.3v4.2M927.7,561.1v-4.2M927.7,38.3v4.2M951.3,561.1v-4.2M951.3,38.3v4.2M970.4,561.1v-4.2M970.4,38.3v4.2M987.8,561.1v-4.2M987.8,38.3v4.2M1000.9,561.1v-9.0M1000.9,38.3v9.0M205.4,492.4h4.2M1103.3,492.4h-4.2M205.4,452.1h4.2M1103.3,452.1h-4.2M205.4,423.6h4.2M1103.3,423.6h-4.2M205.4,401.5h4.2M1103.3,401.5h-4.2M205.4,383.4h4.2M1103.3,383.4h-4.2M205.4,368.1h4.2M1103.3,368.1h-4.2M205.4,354.9h4.2M1103.3,354.9h-4.2M205.4,343.2h4.2M1103.3,343.2h-4.2M205.4,332.8h9.0M1103.3,332.8h-9.0M205.4,265.0h4.2M1103.3,265.0h-4.2M205.4,225.3h4.2M1103.3,225.3h-4.2M205.4,197.2h4.2M1103.3,197.2h-4.2M205.4,175.4h4.2M1103.3,175.4h-4.2M205.4,157.5h4.2M1103.3,157.5h-4.2M205.4,142.5h4.2M1103.3,142.5h-4.2M205.4,129.4h4.2M1103.3,129.4h-4.2M205.4,117.9h4.2M1103.3,117.9h-4.2M205.4,107.6h9.0M1103.3,107.6h-9.0" stroke="#1e1e1e" stroke-width="2.4" fill="none"/>
<rect x="205.4" y="38.3" width="897.9" height="522.8" fill="none" stroke="#1e1e1e" stroke-width="2.7"/>
<g filter="url(#bl)">
<g clip-path="url(#ft)">
<text transform="translate(303.35,628.6) scale(1,1.065)" class="tl" dx="1.5 -1.5">10<tspan dy="-19.15" dx="2" font-size="33.5" class="sup">1</tspan></text>
<text transform="translate(633.15,628.6) scale(1,1.065)" class="tl" dx="1.5 -1.5">10<tspan dy="-19.15" dx="2" font-size="33.5" class="sup">2</tspan></text>
<text transform="translate(965.95,628.6) scale(1,1.065)" class="tl" dx="1.5 -1.5">10<tspan dy="-19.15" dx="2" font-size="33.5" class="sup">3</tspan></text>
<text transform="translate(108.45,128.7) scale(1,1.065)" class="tl" dx="1.5 -1.5">10<tspan dy="-19.15" dx="2" font-size="33.5" class="sup">-1</tspan></text>
<text transform="translate(108.45,354.6) scale(1,1.065)" class="tl" dx="1.5 -1.5">10<tspan dy="-19.15" dx="2" font-size="33.5" class="sup">-2</tspan></text>
<text transform="translate(108.45,580.0) scale(1,1.065)" class="tl" dx="1.5 -1.5">10<tspan dy="-19.15" dx="2" font-size="33.5" class="sup">-3</tspan></text>
</g>
<text transform="translate(653.6,682.7) scale(1,1.03)" text-anchor="middle" class="lab" letter-spacing="0.3">f(Hz)</text>
<text transform="translate(88.7,413.2) rotate(-90) scale(1,1.03)" class="lab" dx="0 0 1.5 1.5 0">PSD(g<tspan dy="-19.15" dx="0" font-size="33.5" class="sup">2</tspan><tspan dy="19.15" dx="1.3 1.5 -1.5 0">/Hz)</tspan></text>
</g>
<rect x="535.3" y="404.5" width="546.0" height="125.7" fill="#fff" stroke="#151515" stroke-width="2.6"/>
<line x1="559.6" y1="440.3" x2="697.5" y2="440.3" stroke="#a9d3ee" stroke-width="7.2" stroke-dasharray="28.2 13.9"/>
<line x1="561" y1="440.3" x2="697.5" y2="440.3" stroke="#0a70be" stroke-width="3" stroke-dasharray="26.8 15.3"/>
<line x1="562" y1="494.4" x2="692.6" y2="494.4" stroke="#000" stroke-width="2.6"/>
<g filter="url(#bl)"><text transform="translate(708.5,454.1) scale(1,1.03)" class="leg" letter-spacing="0.42">Reference signal</text>
<text transform="translate(708.5,510.6) scale(1,1.03)" class="leg" letter-spacing="0.45">Control signal</text></g>
</g>
</svg>
</body></html>
